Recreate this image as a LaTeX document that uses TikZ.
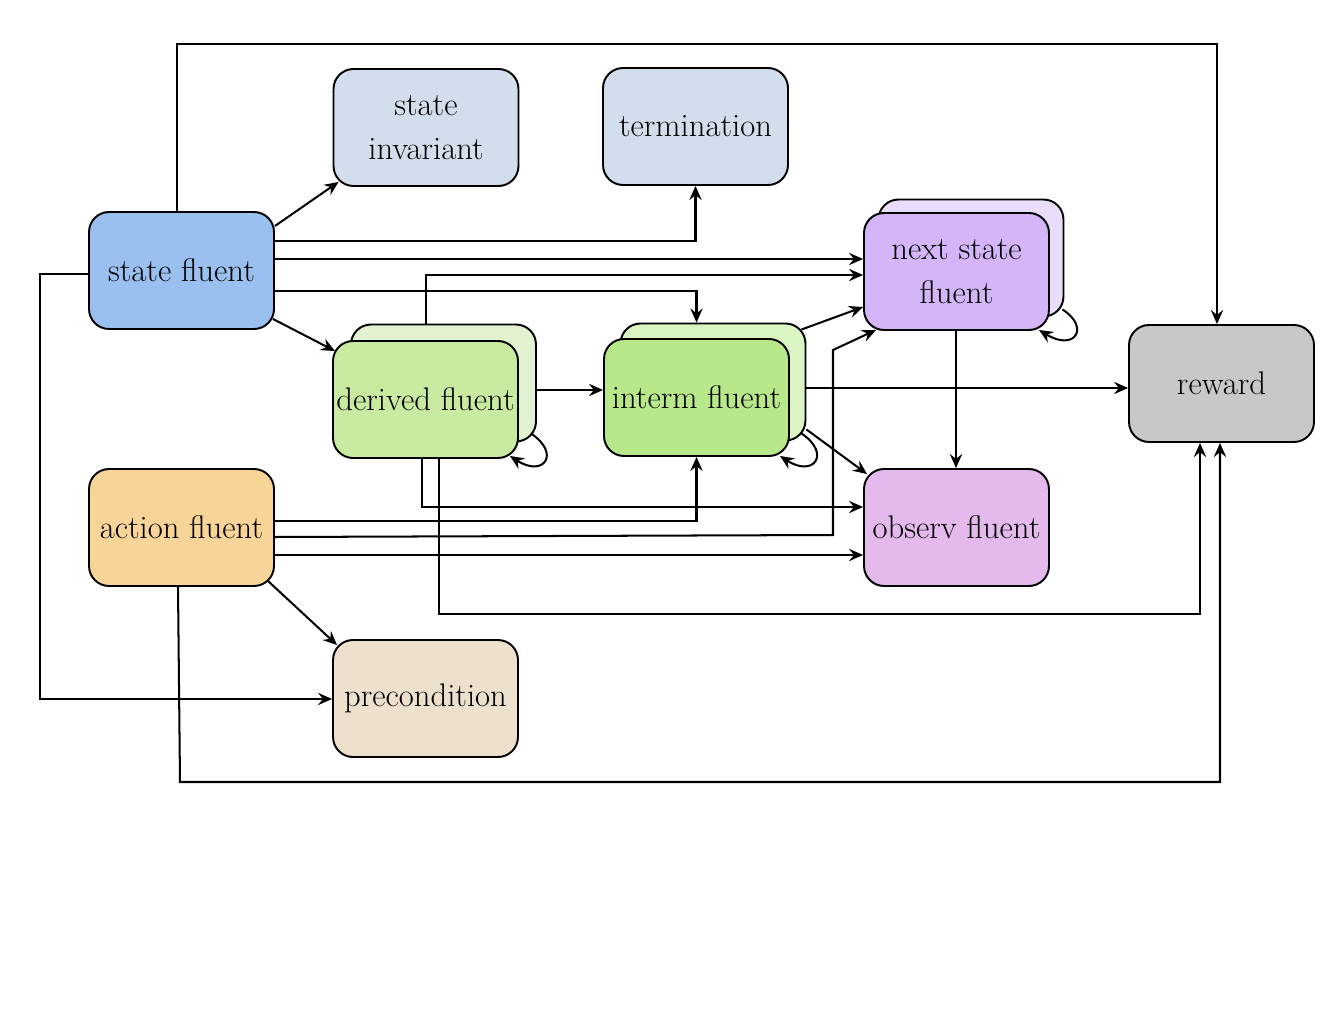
\documentclass[tikz,border=0pt]{standalone}
\usetikzlibrary{arrows.meta,calc}
\definecolor{cState}{HTML}{99C0EF}
\definecolor{cGrey}{HTML}{D2DEEC}
\definecolor{cNext}{HTML}{D3B5F8}
\definecolor{cNextB}{HTML}{E9DDFB}
\definecolor{cDer}{HTML}{C8EBA1}
\definecolor{cDerB}{HTML}{E0F2CF}
\definecolor{cInt}{HTML}{B9E88A}
\definecolor{cIntB}{HTML}{DAF4C3}
\definecolor{cRew}{HTML}{C8C8C8}
\definecolor{cAct}{HTML}{F8D498}
\definecolor{cObs}{HTML}{E4B9EC}
\definecolor{cPre}{HTML}{EDE1CD}
\begin{document}
\begin{tikzpicture}[x=0.02cm,y=-0.02cm,
  box/.style={draw=black,line width=1.1pt,rounded corners=0.4cm,
    minimum width=3.7cm,minimum height=2.34cm,inner sep=0pt,align=center,
    font=\fontsize{18.6}{25}\selectfont},
  arr/.style={draw=black,line width=1.15pt,-{Stealth[length=8pt,width=7pt,inset=2.8pt]}}]
\useasboundingbox (0,0) rectangle (1323,1024);

% plain boxes
\node[box,fill=cState] (sf) at (181.5,270.5) {state fluent};
\node[box,fill=cGrey] (si) at (426,127.5) {state\\invariant};
\node[box,fill=cGrey] (tm) at (695.5,126.5) {termination};
\node[box,fill=cRew] (rw) at (1221.5,383.5) {reward};
\node[box,fill=cAct] (af) at (181.5,527.5) {action fluent};
\node[box,fill=cObs] (ob) at (956.5,527.5) {observ fluent};
\node[box,fill=cPre] (pc) at (425.5,698.5) {precondition};

% stacked boxes: back copy first, front copy on top
\node[box,fill=cNextB] (nsb) at (971,258) {};
\node[box,fill=cNext] (ns) at (956.5,271.5) {next state\\fluent};
\node[box,fill=cDerB] (dfb) at (443.5,383) {};
\node[box,fill=cDer] (df) at (425.5,399.5) {derived fluent};
\node[box,fill=cIntB] (ifb) at (713,382) {};
\node[box,fill=cInt] (ifr) at (696.5,397.5) {interm fluent};

% connectors from state fluent
\draw[arr] (sf.east |- 0,226) -- ($(si.south west)+(6,-5)$);
\draw[arr] (sf.east |- 0,241) -| (tm.south);
\draw[arr] (sf.east |- 0,259) -- (ns.west |- 0,259);
\draw[arr] (sf.east |- 0,291) -| (ifr.center |- ifb.north);
\draw[arr] ($(sf.south east)+(-2,-11)$) -- ($(df.north west)+(3,11)$);
\draw[arr] (sf.north -| 177,0) -- (177,44) -| (rw.north -| 1217,0);
\draw[arr] (sf.west |- 0,274) -- (40,274) |- (pc.west |- 0,699);

% connectors from derived fluent
\draw[arr] (dfb.north -| 426,0) |- (ns.west |- 0,275);
\draw[arr] (dfb.east |- 0,390) -- (ifr.west |- 0,390);
\draw[arr] (df.south -| 422,0) |- (ob.west |- 0,507);
\draw[arr] (df.south -| 439,0) -- (439,614) -| (rw.south -| 1200,0);
\draw[arr] ($(dfb.south east)+(-6,-9)$) .. controls +(30,20) and +(34,22) .. ($(df.south east)+(-9,-3)$);

% connectors from interm fluent
\draw[arr] ($(ifb.north east)+(-5,7)$) -- (ns.west |- 0,307);
\draw[arr] (ifb.east |- 0,388) -- (rw.west |- 0,388);
\draw[arr] ($(ifb.south east)+(0,-12)$) -- ($(ob.north west)+(4,6)$);
\draw[arr] ($(ifb.south east)+(-5,-8)$) .. controls +(30,20) and +(34,22) .. ($(ifr.south east)+(-10,-1)$);

% connectors from action fluent
\draw[arr] (af.east |- 0,521) -| (ifr.south);
\draw[arr] (af.east |- 0,537) -- (833,535) -- (833,350) -- ($(ns.south west)+(13,-1)$);
\draw[arr] (af.east |- 0,555) -- (ob.west |- 0,555);
\draw[arr] ($(af.south east)+(-7,-6)$) -- ($(pc.north west)+(5,6)$);
\draw[arr] (af.south -| 178,0) -- (180,782) -| (rw.south -| 1220,0);

% connectors from next state fluent
\draw[arr] (ns.south -| 956,0) -- (ob.north -| 956,0);
\draw[arr] ($(nsb.south east)+(-2,-8)$) .. controls +(28,18) and +(36,22) .. ($(ns.south east)+(-11,-1)$);
\end{tikzpicture}
\end{document}
